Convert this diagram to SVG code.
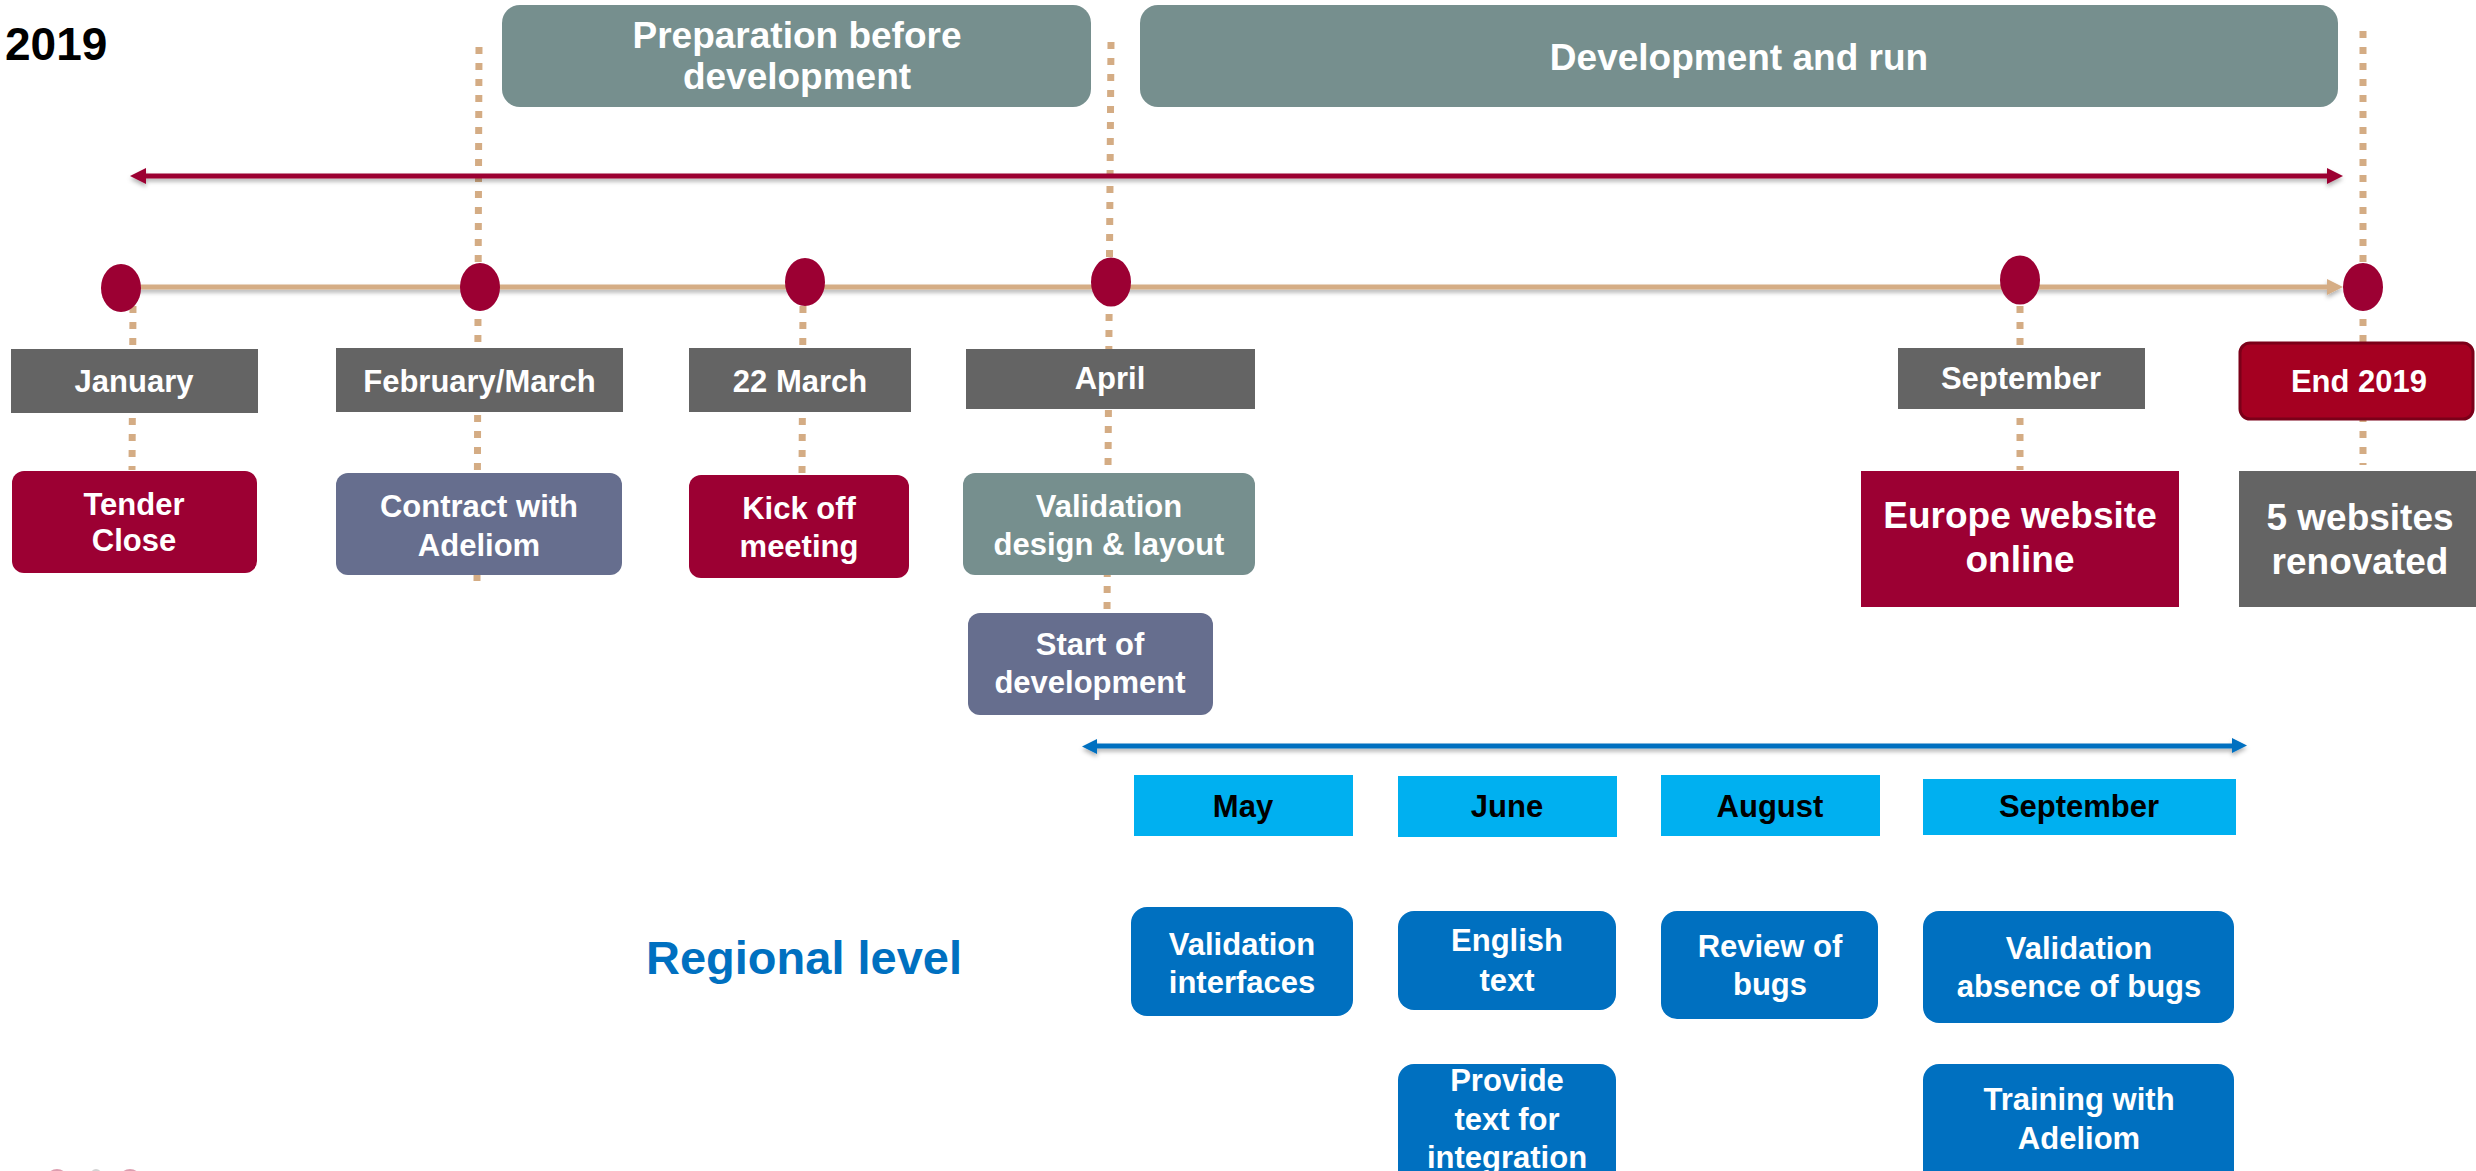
<svg xmlns="http://www.w3.org/2000/svg" width="2476" height="1171" viewBox="0 0 2476 1171">
<defs>
<style>
text{font-family:"Liberation Sans",Arial,sans-serif;font-weight:bold;text-anchor:middle}
.w{fill:#ffffff}
.k{fill:#000000}
.s31{font-size:31px}
.s37{font-size:37px}
.month{fill:#646464}
.red{fill:#9C0033}
.slate{fill:#666E8E}
.teal{fill:#768F8E}
.cyan{fill:#00B0F0}
.blue{fill:#0070C0}
.dot{fill:#9C0033}
.vdash{stroke:#D4AC84;stroke-width:7;stroke-dasharray:7 9;fill:none}
</style>
<filter id="sh" filterUnits="userSpaceOnUse" x="0" y="0" width="2476" height="1171">
<feDropShadow dx="0" dy="3" stdDeviation="2" flood-color="#000" flood-opacity="0.3"/>
</filter>
<marker id="aRed" markerUnits="userSpaceOnUse" markerWidth="16" markerHeight="16" refX="0" refY="8" orient="auto-start-reverse"><path d="M0,0 L16,8 L0,16 z" fill="#9C0030"/></marker>
<marker id="aTan" markerUnits="userSpaceOnUse" markerWidth="16" markerHeight="16" refX="0" refY="8" orient="auto-start-reverse"><path d="M0,0 L16,8 L0,16 z" fill="#D5AD85"/></marker>
<marker id="aBlue" markerUnits="userSpaceOnUse" markerWidth="16" markerHeight="16" refX="0" refY="8" orient="auto-start-reverse"><path d="M0,0 L15,7.5 L0,15 z" fill="#0070C0"/></marker>
</defs>
<rect width="2476" height="1171" fill="#ffffff"/>

<g id="year"><text x="5" y="60" class="k" style="font-size:46px;text-anchor:start">2019</text></g>

<g id="connectors">
<line class="vdash" x1="479" y1="47" x2="477" y2="581"/>
<line class="vdash" x1="1111" y1="42" x2="1107" y2="612"/>
<line class="vdash" x1="2363" y1="31" x2="2363" y2="465"/>
<line class="vdash" x1="133" y1="306" x2="132" y2="470"/>
<line class="vdash" x1="803" y1="306" x2="802" y2="474"/>
<line class="vdash" x1="2020" y1="306" x2="2020" y2="470"/>
<line x1="146" y1="176" x2="2327" y2="176" stroke="#9C0030" stroke-width="5" marker-start="url(#aRed)" marker-end="url(#aRed)" filter="url(#sh)"/>
<line x1="121" y1="287" x2="2327" y2="287" stroke="#D5AD85" stroke-width="5" marker-end="url(#aTan)" filter="url(#sh)"/>
<line x1="1097" y1="746" x2="2232" y2="746" stroke="#0070C0" stroke-width="5" marker-start="url(#aBlue)" marker-end="url(#aBlue)" filter="url(#sh)"/>
</g>

<g id="phase-prep"><rect x="502" y="5" width="589" height="102" rx="18" class="teal"/>
<text x="797" y="48" class="w s37">Preparation before</text><text x="797" y="89" class="w s37">development</text></g>
<g id="phase-dev"><rect x="1140" y="5" width="1198" height="102" rx="18" class="teal"/>
<text x="1739" y="70" class="w s37">Development and run</text></g>

<g id="dot-jan"><ellipse cx="121" cy="288" rx="20" ry="24" class="dot"/></g>
<g id="dot-feb"><ellipse cx="480" cy="287" rx="20" ry="24" class="dot"/></g>
<g id="dot-22mar"><ellipse cx="805" cy="282" rx="20" ry="24" class="dot"/></g>
<g id="dot-apr"><ellipse cx="1111" cy="282" rx="20" ry="24.5" class="dot"/></g>
<g id="dot-sep"><ellipse cx="2020" cy="280" rx="20" ry="24.5" class="dot"/></g>
<g id="dot-end"><ellipse cx="2363" cy="287" rx="20" ry="24" class="dot"/></g>

<g id="m-jan"><rect x="11" y="349" width="247" height="64" class="month"/><text x="134" y="392" class="w s31">January</text></g>
<g id="m-feb"><rect x="336" y="348" width="287" height="64" class="month"/><text x="479.5" y="392" class="w s31">February/March</text></g>
<g id="m-22mar"><rect x="689" y="348" width="222" height="64" class="month"/><text x="800" y="392" class="w s31">22 March</text></g>
<g id="m-apr"><rect x="966" y="349" width="289" height="60" class="month"/><text x="1110" y="389" class="w s31">April</text></g>
<g id="m-sep"><rect x="1898" y="348" width="247" height="61" class="month"/><text x="2021" y="389" class="w s31">September</text></g>
<g id="m-end"><rect x="2240" y="343" width="233" height="76" rx="10" fill="#A50021" stroke="#7B0019" stroke-width="3"/><text x="2359" y="392" class="w s31">End 2019</text></g>

<g id="e-tender"><rect x="12" y="471" width="245" height="102" rx="12" class="red"/><text x="134" y="515" class="w s31">Tender</text><text x="134" y="551" class="w s31">Close</text></g>
<g id="e-contract"><rect x="336" y="473" width="286" height="102" rx="12" class="slate"/><text x="479" y="517" class="w s31">Contract with</text><text x="479" y="556" class="w s31">Adeliom</text></g>
<g id="e-kickoff"><rect x="689" y="475" width="220" height="103" rx="12" class="red"/><text x="799" y="519" class="w s31">Kick off</text><text x="799" y="557" class="w s31">meeting</text></g>
<g id="e-validation"><rect x="963" y="473" width="292" height="102" rx="12" class="teal"/><text x="1109" y="517" class="w s31">Validation</text><text x="1109" y="555" class="w s31">design &amp; layout</text></g>
<g id="e-start"><rect x="968" y="613" width="245" height="102" rx="12" class="slate"/><text x="1090" y="655" class="w s31">Start of</text><text x="1090" y="693" class="w s31">development</text></g>
<g id="e-europe"><rect x="1861" y="471" width="318" height="136" class="red"/><text x="2020" y="528" class="w s37">Europe website</text><text x="2020" y="572" class="w s37">online</text></g>
<g id="e-five"><rect x="2239" y="471" width="237" height="136" class="month"/><text x="2360" y="530" class="w s37">5 websites</text><text x="2360" y="574" class="w s37">renovated</text></g>

<g id="regional-label"><text x="804" y="974" style="font-size:47px;fill:#0070C0">Regional level</text></g>

<g id="r-may"><rect x="1134" y="775" width="219" height="61" class="cyan"/><text x="1243" y="817" class="k s31">May</text></g>
<g id="r-june"><rect x="1398" y="776" width="219" height="61" class="cyan"/><text x="1507" y="817" class="k s31">June</text></g>
<g id="r-aug"><rect x="1661" y="775" width="219" height="61" class="cyan"/><text x="1770" y="817" class="k s31">August</text></g>
<g id="r-sep"><rect x="1923" y="779" width="313" height="56" class="cyan"/><text x="2079" y="817" class="k s31">September</text></g>

<g id="t-valint"><rect x="1131" y="907" width="222" height="109" rx="16" class="blue"/><text x="1242" y="955" class="w s31">Validation</text><text x="1242" y="993" class="w s31">interfaces</text></g>
<g id="t-english"><rect x="1398" y="911" width="218" height="99" rx="16" class="blue"/><text x="1507" y="951" class="w s31">English</text><text x="1507" y="991" class="w s31">text</text></g>
<g id="t-review"><rect x="1661" y="911" width="217" height="108" rx="16" class="blue"/><text x="1770" y="957" class="w s31">Review of</text><text x="1770" y="995" class="w s31">bugs</text></g>
<g id="t-absence"><rect x="1923" y="911" width="311" height="112" rx="16" class="blue"/><text x="2079" y="959" class="w s31">Validation</text><text x="2079" y="997" class="w s31">absence of bugs</text></g>
<g id="t-provide"><rect x="1398" y="1064" width="218" height="130" rx="16" class="blue"/><text x="1507" y="1091" class="w s31">Provide</text><text x="1507" y="1130" class="w s31">text for</text><text x="1507" y="1168" class="w s31">integration</text></g>
<g id="t-training"><rect x="1923" y="1064" width="311" height="130" rx="16" class="blue"/><text x="2079" y="1110" class="w s31">Training with</text><text x="2079" y="1149" class="w s31">Adeliom</text></g>

<g id="logo-fragment" opacity="0.55">
<ellipse cx="57" cy="1182" rx="12" ry="13" fill="#C0506F"/>
<ellipse cx="96" cy="1182" rx="8" ry="13" fill="#B0B0B0"/>
<ellipse cx="130" cy="1182" rx="12" ry="13" fill="#C0506F"/>
</g>
</svg>
